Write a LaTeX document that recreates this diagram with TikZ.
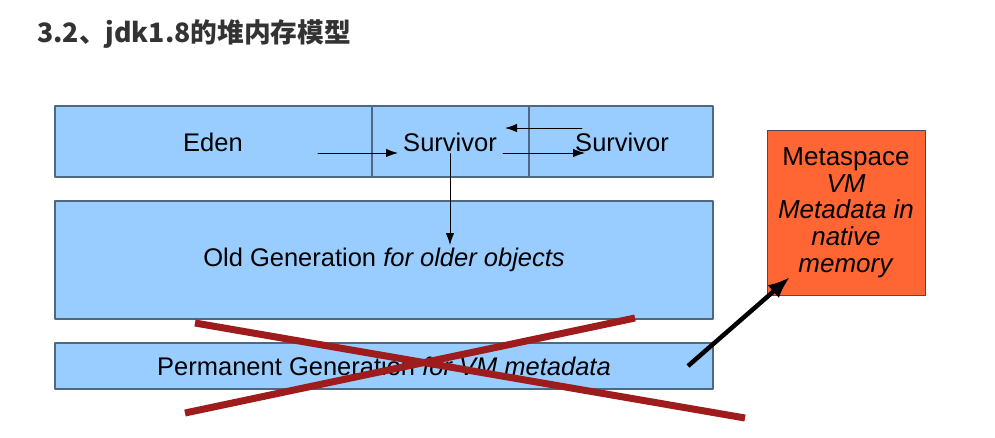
\documentclass[tikz,border=0pt]{standalone}
\usepackage{fontspec}
\setmainfont{Liberation Sans}
\newfontfamily\cjk{Noto Sans CJK SC}
\usepackage{xcolor}
\usepackage{tikz}
\usetikzlibrary{arrows.meta}
\definecolor{heapBlue}{HTML}{99CCFF}
\definecolor{heapLine}{HTML}{50687E}
\definecolor{metaOrange}{HTML}{FF6633}
\definecolor{crossRed}{HTML}{9E1C1C}
\definecolor{titleInk}{HTML}{333333}
\tikzset{
  heap diagram/.style={x=1pt, y=-1pt, text=black,
    line cap=round, line join=round},
  heap box/.style={draw=heapLine, fill=heapBlue, line width=1.2pt,
    inner sep=0pt, font=\fontsize{25.5}{29}\selectfont},
  meta box/.style={heap box, draw=black!70, fill=metaOrange, line width=0.8pt,
    align=center, font=\fontsize{26}{26.7}\selectfont},
  gc arrow/.style={-{Latex[length=12pt,width=8.5pt]}, draw=black, line width=0.9pt},
  move arrow/.style={-{Latex[length=22pt,width=17pt]}, draw=black, line width=4.5pt,
    line cap=butt},
  cross line/.style={draw=crossRed, line width=7pt, line cap=butt},
  heap label/.style={inner sep=2pt, font=\fontsize{25.5}{29}\selectfont}
}

\begin{document}
\begin{tikzpicture}[heap diagram]
\useasboundingbox[fill=white] (0,0) rectangle (995,437);
\node[anchor=base west, inner sep=0pt, text=titleInk,
  font=\cjk\bfseries\fontsize{26.7}{32}\selectfont] (title) at (37,42) {3.2、jdk1.8的堆内存模型};
% young generation
\node[heap box, minimum width=317pt, minimum height=71pt] (eden) at (213.5,141.5) {};
\node[heap box, minimum width=157pt, minimum height=71pt] (s0box) at (450.5,141.5) {};
\node[heap box, minimum width=184pt, minimum height=71pt] (s1box) at (621,141.5) {};
\node[heap label] (edenlabel) at (213,142) {Eden};
\node[heap label] (s0) at (450,142) {Survivor};
\node[heap label] (s1) at (622,142) {Survivor};
% old and permanent generation
\node[heap box, minimum width=658pt, minimum height=118pt] (old) at (384,260)
  {Old Generation \textit{for older objects}};
\node[heap box, minimum width=658pt, minimum height=46pt] (perm) at (384,366)
  {Permanent Generation \textit{for VM metadata}};
% metaspace
\node[meta box, minimum width=158pt, minimum height=165pt] (meta) at (846,212.5)
  {Metaspace\\\textit{VM}\\\textit{Metadata in}\\\textit{native}\\\textit{memory}};
% copying between spaces
\coordinate (edenout) at (318,153);
\coordinate (s0in) at (398,153);
\coordinate (s0out) at (503,153);
\coordinate (s1in) at (585,153);
\coordinate (s1back) at (582,128);
\coordinate (s0back) at (505,128);
\coordinate (promote) at (450,245);
\draw[gc arrow] (edenout) -- (s0in);
\draw[gc arrow] (s0out) -- (s1in);
\draw[gc arrow] (s1back) -- (s0back);
\draw[gc arrow] (s0.south) -- (promote);
% permgen removed
\draw[cross line] (195,323) -- (745,418);
\draw[cross line] (185,413) -- (635,318);
\coordinate (permout) at (688,366);
\coordinate (metain) at (790,277);
\draw[move arrow] (permout) -- (metain);
\end{tikzpicture}
\end{document}
